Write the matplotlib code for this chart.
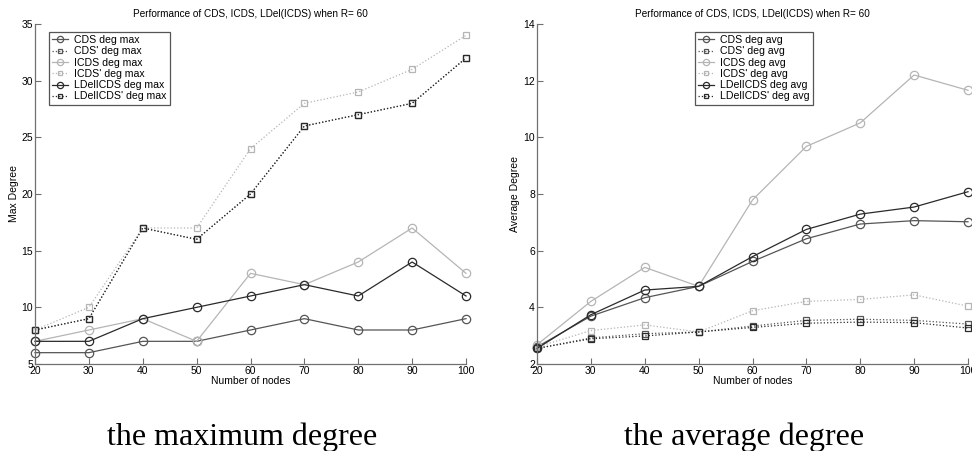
import matplotlib
matplotlib.use("Agg")
import matplotlib.pyplot as plt

nodes = [20, 30, 40, 50, 60, 70, 80, 90, 100]

# Max degree
cds_max = [6, 6, 7, 7, 8, 9, 8, 8, 9]
cdsp_max = [8, 9, 17, 16, 20, 26, 27, 28, 32]
icds_max = [7, 8, 9, 7, 13, 12, 14, 17, 13]
icdsp_max = [8, 10, 17, 17, 24, 28, 29, 31, 34]
ldel_max = [7, 7, 9, 10, 11, 12, 11, 14, 11]
ldelp_max = [8, 9, 17, 16, 20, 26, 27, 28, 32]

# Average degree
cds_avg = [2.6, 3.69, 4.34, 4.74, 5.62, 6.42, 6.94, 7.06, 7.02]
cdsp_avg = [2.55, 2.92, 3.07, 3.13, 3.34, 3.54, 3.58, 3.54, 3.41]
icds_avg = [2.68, 4.21, 5.41, 4.74, 7.79, 9.68, 10.51, 12.2, 11.66]
icdsp_avg = [2.6, 3.18, 3.38, 3.13, 3.88, 4.21, 4.28, 4.44, 4.04]
ldel_avg = [2.55, 3.74, 4.61, 4.74, 5.79, 6.75, 7.29, 7.54, 8.08]
ldelp_avg = [2.55, 2.89, 2.99, 3.13, 3.29, 3.44, 3.48, 3.46, 3.27]

max_labels = ["CDS deg max", "CDS' deg max", "ICDS deg max", "ICDS' deg max",
              "LDelICDS deg max", "LDelICDS' deg max"]
avg_labels = ["CDS deg avg", "CDS' deg avg", "ICDS deg avg", "ICDS' deg avg",
              "LDelICDS deg avg", "LDelICDS' deg avg"]

title = "Performance of CDS, ICDS, LDel(ICDS) when R= 60"

plt.rcParams['font.family'] = ['Liberation Sans', 'DejaVu Sans']

DARK1 = '#555555'
DARK2 = '#2a2a2a'
LIGHT = '#b5b5b5'
styles = [
    dict(color=DARK1, ls='-', marker='o', ms=6),
    dict(color=DARK1, ls=':', marker='s', ms=4.5),
    dict(color=LIGHT, ls='-', marker='o', ms=6),
    dict(color=LIGHT, ls=':', marker='s', ms=4.5),
    dict(color=DARK2, ls='-', marker='o', ms=6),
    dict(color=DARK2, ls=':', marker='s', ms=4.5),
]

fig = plt.figure(figsize=(9.72, 4.51), dpi=100)
ax1 = fig.add_axes([35/972, 87/451, 431/972, 340/451])
ax2 = fig.add_axes([537/972, 87/451, 431/972, 340/451])


def draw(ax, series, labels, ylim, yticks, ylabel, leg_anchor):
    for s, lab, st in zip(series, labels, styles):
        ax.plot(nodes, s, label=lab, color=st['color'], ls=st['ls'],
                marker=st['marker'], ms=st['ms'], mfc='none',
                mec=st['color'], mew=0.9, lw=0.9, clip_on=False)
    ax.set_xlim(20, 100)
    ax.set_ylim(*ylim)
    ax.set_xticks(nodes)
    ax.set_yticks(yticks)
    ax.tick_params(direction='in', length=4, width=0.8, labelsize=7.5,
                   colors='#707070', labelcolor='black', pad=1.5)
    for sp in ['top', 'right']:
        ax.spines[sp].set_visible(False)
    for sp in ['left', 'bottom']:
        ax.spines[sp].set_color('#707070')
        ax.spines[sp].set_linewidth(0.9)
    ax.set_xlabel('Number of nodes', fontsize=7.5, labelpad=0)
    ax.set_ylabel(ylabel, fontsize=7.5, labelpad=2)
    ax.set_title(title, fontsize=7.2, pad=5)
    leg = ax.legend(loc='upper left', bbox_to_anchor=leg_anchor,
                    bbox_transform=fig.transFigure, fontsize=7.6,
                    handlelength=1.5, handletextpad=0.6, labelspacing=0.12,
                    borderpad=0.3, borderaxespad=0, fancybox=False,
                    framealpha=1, markerscale=0.75)
    leg.get_frame().set_edgecolor('#555555')
    leg.get_frame().set_linewidth(0.9)


draw(ax1, [cds_max, cdsp_max, icds_max, icdsp_max, ldel_max, ldelp_max],
     max_labels, (5, 35), [5, 10, 15, 20, 25, 30, 35], 'Max Degree',
     (49/972, 1 - 32/451))
draw(ax2, [cds_avg, cdsp_avg, icds_avg, icdsp_avg, ldel_avg, ldelp_avg],
     avg_labels, (2, 14), [2, 4, 6, 8, 10, 12, 14], 'Average Degree',
     (695/972, 1 - 32/451))

fig.text(242/972, 1 - 445/451, 'the maximum degree', ha='center',
         va='baseline', fontsize=23, family=['Liberation Serif', 'DejaVu Serif'])
fig.text(744/972, 1 - 445/451, 'the average degree', ha='center',
         va='baseline', fontsize=23, family=['Liberation Serif', 'DejaVu Serif'])

fig.savefig('out.png', dpi=100)
